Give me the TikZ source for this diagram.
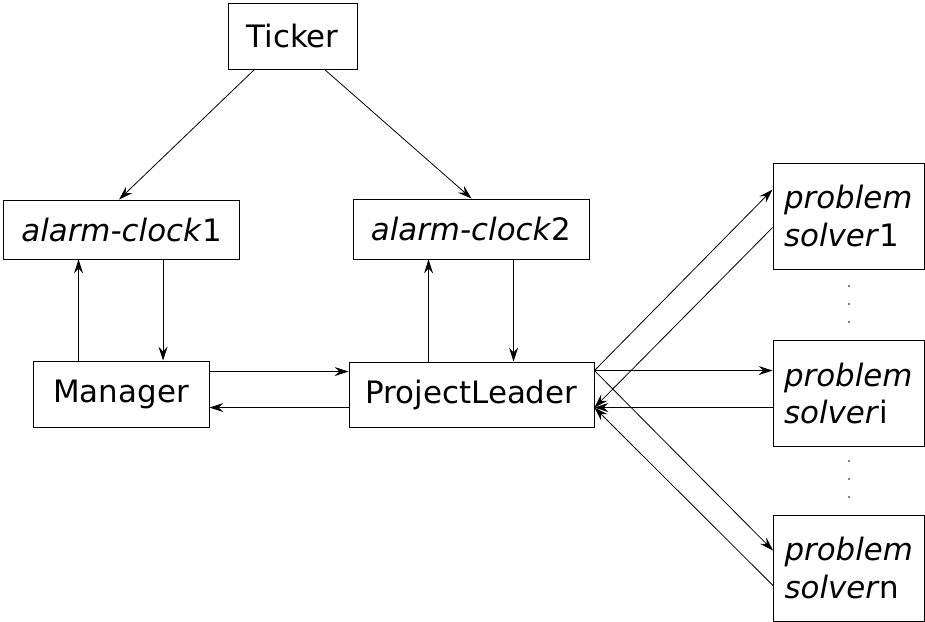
\documentclass[tikz,border=0pt]{standalone}
\usepackage{fontspec}
\setmainfont{DejaVu Sans}
\usetikzlibrary{arrows.meta,calc}
\begin{document}
\begin{tikzpicture}[x=1bp,y=-1bp,
  box/.style={draw,line width=0.9bp,inner sep=0pt,font=\fontsize{31}{38}\selectfont},
  solver/.style={box,minimum width=151bp,minimum height=106bp,text width=129bp,inner xsep=11bp,align=left},
  link/.style={draw,line width=0.8bp,-{Stealth[length=14bp,width=9bp,inset=5bp]}},
  dotmark/.style={fill,circle,inner sep=0pt,minimum size=1.8bp}]
\useasboundingbox (0,0) rectangle (925,622);
% top: the ticker and the two alarm clocks
\node[box,minimum width=129bp,minimum height=66bp] (tick) at (292.5,36) {Ticker};
\node[box,minimum width=236bp,minimum height=59bp] (ac1) at (121.5,229.5) {\textit{alarm-clock}1};
\node[box,minimum width=236bp,minimum height=60bp] (ac2) at (471,229) {\textit{alarm-clock}2};
% middle row
\node[box,minimum width=176bp,minimum height=66bp] (mgr) at (121,394) {Manager};
\node[box,minimum width=245bp,minimum height=65bp] (pl) at (471.5,394.5) {ProjectLeader};
% problem solvers
\node[solver] (ps1) at (848.5,216) {\textit{problem}\\\textit{solver}1};
\node[solver] (psi) at (848.5,393.5) {\textit{problem}\\\textit{solver}i};
\node[solver] (psn) at (849,568) {\textit{problem}\\\textit{solver}n};
% vertical ellipses between the solvers
\foreach \yy [count=\k] in {286,304,322}{\node[dotmark] (da\k) at (849,\yy) {};}
\foreach \yy [count=\k] in {461,479,497}{\node[dotmark] (db\k) at (849,\yy) {};}
% attachment points on the box borders
\coordinate (t1) at ($(tick.south west)+(27,0)$);
\coordinate (t2) at ($(tick.south west)+(97,0)$);
\coordinate (a1) at ($(ac1.north west)+(116,0)$);
\coordinate (a2) at ($(ac2.north west)+(119,0)$);
\coordinate (m1) at ($(mgr.north west)+(46,0)$);
\coordinate (c1) at ($(ac1.south west)+(160,0)$);
\coordinate (p1) at ($(pl.north west)+(80,0)$);
\coordinate (c2) at ($(ac2.south west)+(161,0)$);
\coordinate (mo) at ($(mgr.north east)+(0,11)$);
\coordinate (mi) at ($(mgr.north east)+(0,47)$);
\coordinate (po) at ($(pl.north east)+(0,9)$);
\coordinate (pi) at ($(pl.north east)+(0,46)$);
\coordinate (s1i) at ($(ps1.north west)+(0,27)$);
\coordinate (s1o) at ($(ps1.north west)+(0,65)$);
\coordinate (sni) at ($(psn.north west)+(0,36)$);
\coordinate (sno) at ($(psn.north west)+(0,71)$);
% connectors
\draw[link] (t1) -- (a1);
\draw[link] (t2) -- (a2);
\draw[link] (m1) -- (m1 |- ac1.south);
\draw[link] (c1) -- (c1 |- mgr.north);
\draw[link] (p1) -- (p1 |- ac2.south);
\draw[link] (c2) -- (c2 |- pl.north);
\draw[link] (mo) -- (mo -| pl.west);
\draw[link] (pi -| pl.west) -- (mi);
\draw[link] (po) -- (s1i);
\draw[link] (s1o) -- (pi);
\draw[link] (po) -- (po -| psi.west);
\draw[link] (pi -| psi.west) -- (pi);
\draw[link] (po) -- (sni);
\draw[link] (sno) -- (pi);
\end{tikzpicture}
\end{document}
